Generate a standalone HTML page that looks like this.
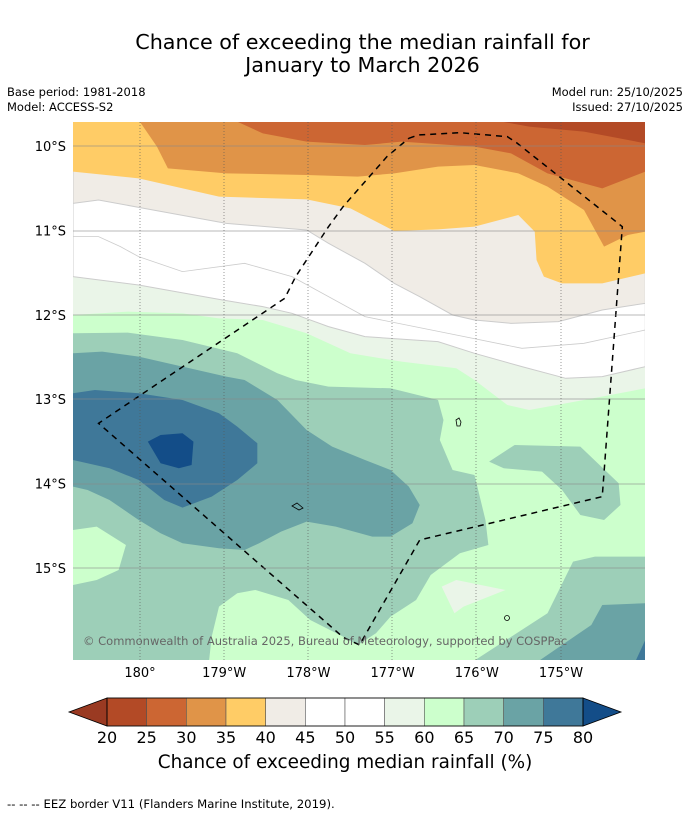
<!DOCTYPE html>
<html><head><meta charset="utf-8"><style>
body{margin:0;background:#fff;font-family:"DejaVu Sans","Liberation Sans",sans-serif;}
#wrap{position:relative;width:690px;height:816px;overflow:hidden;background:#fff;}
.t{position:absolute;white-space:nowrap;color:#000;}
</style></head><body>
<div id="wrap">
<div class="t" style="left:0;width:725px;text-align:center;top:31px;font-size:20.7px;line-height:23px;">Chance of exceeding the median rainfall for<br>January to March 2026</div>
<div class="t" style="left:7px;top:85px;font-size:11.5px;line-height:15px;">Base period: 1981-2018<br>Model: ACCESS-S2</div>
<div class="t" style="right:7px;top:85px;font-size:11.5px;line-height:15px;text-align:right;">Model run: 25/10/2025<br>Issued: 27/10/2025</div>
<svg id="map" width="690" height="816" style="position:absolute;left:0;top:0;font-family:'DejaVu Sans',sans-serif">
<defs><clipPath id="clip"><rect x="73" y="122" width="572" height="538"/></clipPath></defs>
<g clip-path="url(#clip)">
<rect x="73" y="122" width="572" height="538" fill="#ccffcc"/>
<g transform="translate(73,120) scale(0.365,0.3333)">
<polygon fill="#eaf5e8" points="0,585 150,575 300,580 400,595 520,600 640,640 760,700 900,725 1050,745 1100,780 1190,855 1250,870 1400,840 1568,805 1568,0 0,0"/>
<polygon fill="#ffffff" stroke="#ccc" vector-effect="non-scaling-stroke" points="0,470 180,495 410,540 520,560 600,580 700,620 800,650 1000,665 1100,700 1230,740 1350,775 1450,770 1568,740 1568,0 0,0"/>
<polyline fill="none" stroke="#ccc" stroke-width="0.8" vector-effect="non-scaling-stroke" points="0,350 70,350 130,380 180,410 300,455 470,430 600,470 800,590 1050,645 1230,685 1400,670 1568,630"/>
<polygon fill="#f0ece6" stroke="#ccc" vector-effect="non-scaling-stroke" points="0,250 70,240 180,262 420,310 640,330 700,370 800,430 880,490 950,530 1040,585 1100,600 1200,610 1330,605 1450,570 1568,550 1568,0 0,0"/>
<polygon fill="#ffcc66" points="0,155 180,175 400,230 640,238 760,265 880,333 1000,328 1100,320 1220,285 1265,335 1270,420 1290,470 1340,490 1450,490 1568,460 1568,0 0,0"/>
<polygon fill="#e09448" points="180,0 230,80 260,145 420,160 640,165 780,170 880,160 1000,140 1100,135 1220,160 1300,200 1400,270 1455,380 1520,345 1568,335 1568,0"/>
<polygon fill="#cc6633" points="440,0 520,40 640,65 800,75 900,65 1100,80 1200,100 1300,160 1450,205 1568,155 1568,0"/>
<polygon fill="#b34a26" points="1150,0 1250,20 1400,35 1568,70 1568,0"/>
<polygon fill="#9dcfb8" points="0,640 150,638 300,660 450,700 560,760 610,780 700,800 870,805 1000,840 1015,900 1005,960 1040,1050 1100,1065 1130,1200 1138,1275 1060,1300 980,1365 940,1440 870,1490 830,1540 780,1575 740,1550 650,1500 590,1440 500,1410 450,1420 400,1460 380,1550 370,1650 0,1650"/>
<polygon fill="#ccffcc" points="0,1230 65,1220 145,1275 125,1350 65,1380 0,1395"/>
<polygon fill="#eaf5e8" points="1010,1400 1050,1380 1185,1410 1070,1460 1045,1480"/>
<polygon fill="#9dcfb8" points="1140,1025 1210,975 1390,980 1495,1090 1500,1155 1455,1200 1390,1185 1340,1110 1285,1055 1180,1045"/>
<polygon fill="#9dcfb8" points="1060,1650 1300,1480 1370,1325 1430,1310 1568,1310 1568,1650"/>
<polygon fill="#6aa3a5" points="1240,1650 1420,1515 1450,1455 1568,1450 1568,1650"/>
<polygon fill="#3f7899" points="1530,1650 1568,1560 1568,1650"/>
<polygon fill="#6aa3a5" points="0,700 80,695 180,710 300,740 420,770 470,780 560,840 640,930 710,980 800,1020 870,1050 920,1100 950,1155 930,1210 870,1250 820,1250 720,1220 640,1205 570,1235 510,1270 470,1290 400,1285 300,1270 240,1240 180,1200 100,1140 40,1110 0,1100"/>
<polygon fill="#3f7899" points="0,820 60,810 180,820 300,840 400,880 450,920 505,970 505,1030 450,1080 380,1130 300,1163 250,1140 180,1080 100,1045 0,1020"/>
<polygon fill="#134d88" points="205,965 240,945 300,940 330,965 325,1035 290,1045 240,1030"/>
<polyline fill="none" stroke="#000" stroke-width="1.5" stroke-dasharray="6,5" vector-effect="non-scaling-stroke" points="920,55 945,45 1060,38 1190,50 1215,68 1505,320 1450,1130 950,1260 785,1575 740,1552 70,910 580,535 610,470 700,320 740,260 860,110 920,55"/>
</g>
<g stroke="#888" stroke-opacity="0.6" stroke-width="1">
<line x1="73" x2="645" y1="146" y2="146"/><line x1="73" x2="645" y1="231" y2="231"/><line x1="73" x2="645" y1="315" y2="315"/><line x1="73" x2="645" y1="399" y2="399"/><line x1="73" x2="645" y1="484" y2="484"/><line x1="73" x2="645" y1="568" y2="568"/>
<g stroke-dasharray="1,2" stroke="#555"><line x1="140" x2="140" y1="122" y2="660"/><line x1="224" x2="224" y1="122" y2="660"/><line x1="308" x2="308" y1="122" y2="660"/><line x1="392" x2="392" y1="122" y2="660"/><line x1="476" x2="476" y1="122" y2="660"/><line x1="561" x2="561" y1="122" y2="660"/></g>
</g>
<g fill="none" stroke="#000" stroke-width="0.8">
<path d="M456,420 l3,-2 l2,4 l-1,4 l-3,0 z"/><path d="M292,506 l5,-3 l6,5 l-4,2 z"/><circle cx="507" cy="618" r="2.5"/>
</g>
<text x="83" y="645" font-size="11.5" fill="#666">© Commonwealth of Australia 2025, Bureau of Meteorology, supported by COSPPac</text>
</g>
<g id="axes" font-size="13" fill="#000"></g>
<g id="cbar"></g>
</svg>
<div class="t" style="left:0;width:690px;text-align:center;top:752px;font-size:18.4px;">Chance of exceeding median rainfall (%)</div>
<div class="t" style="left:7px;top:797px;font-size:11.7px;">--  --  -- EEZ border V11 (Flanders Marine Institute, 2019).</div>
</div>
<script>
const latLabels=["10°S","11°S","12°S","13°S","14°S","15°S"];
const latValues=[10,11,12,13,14,15];
const lonLabels=["180°","179°W","178°W","177°W","176°W","175°W"];
const lonValues=[180,179,178,177,176,175];
const levels=[20,25,30,35,40,45,50,55,60,65,70,75,80];
const bandColors=["#b34a26","#cc6633","#e09448","#ffcc66","#f0ece6","#ffffff","#ffffff","#eaf5e8","#ccffcc","#9dcfb8","#6aa3a5","#3f7899"];
const lowColor="#9a3a22", highColor="#134d88";
const NS="http://www.w3.org/2000/svg";
const yLat=v=>146+(v-10)*84.4;
const xLon=v=>140+(180-v)*84.2;
const ax=document.getElementById('axes');
latValues.forEach((v,i)=>{const t=document.createElementNS(NS,'text');
t.setAttribute('x',66);t.setAttribute('y',yLat(v)+5);t.setAttribute('text-anchor','end');t.textContent=latLabels[i];


ax.appendChild(t);});
lonValues.forEach((v,i)=>{const t=document.createElementNS(NS,'text');
t.setAttribute('x',xLon(v));t.setAttribute('y',677);t.setAttribute('text-anchor','middle');t.textContent=lonLabels[i];


ax.appendChild(t);});
const cb=document.getElementById('cbar');
const x0=107,x1=583,cy0=698,cy1=726;
const segW=(x1-x0)/bandColors.length;
const xc=v=>x0+(v-levels[0])/(levels[levels.length-1]-levels[0])*(x1-x0);
bandColors.forEach((c,i)=>{const r=document.createElementNS(NS,'rect');
r.setAttribute('x',xc(levels[i]));r.setAttribute('y',cy0);r.setAttribute('width',segW);r.setAttribute('height',cy1-cy0);
r.setAttribute('fill',c);r.setAttribute('stroke','#555');r.setAttribute('stroke-width','0.6');


cb.appendChild(r);});
const lt=document.createElementNS(NS,'polygon');
lt.setAttribute('points',`${x0},${cy0} 69,712 ${x0},${cy1}`);lt.setAttribute('fill',lowColor);lt.setAttribute('stroke','#000');lt.setAttribute('stroke-width','0.8');


cb.appendChild(lt);
const rt=document.createElementNS(NS,'polygon');
rt.setAttribute('points',`${x1},${cy0} 621,712 ${x1},${cy1}`);rt.setAttribute('fill',highColor);rt.setAttribute('stroke','#000');rt.setAttribute('stroke-width','0.8');


cb.appendChild(rt);
const fr=document.createElementNS(NS,'rect');
fr.setAttribute('x',x0);fr.setAttribute('y',cy0);fr.setAttribute('width',x1-x0);fr.setAttribute('height',cy1-cy0);fr.setAttribute('fill','none');fr.setAttribute('stroke','#000');fr.setAttribute('stroke-width','0.8');


cb.appendChild(fr);
levels.forEach(v=>{const t=document.createElementNS(NS,'text');
t.setAttribute('x',xc(v));t.setAttribute('y',743);t.setAttribute('text-anchor','middle');t.setAttribute('font-size','16');t.textContent=v;


cb.appendChild(t);});
</script>
</body></html>
